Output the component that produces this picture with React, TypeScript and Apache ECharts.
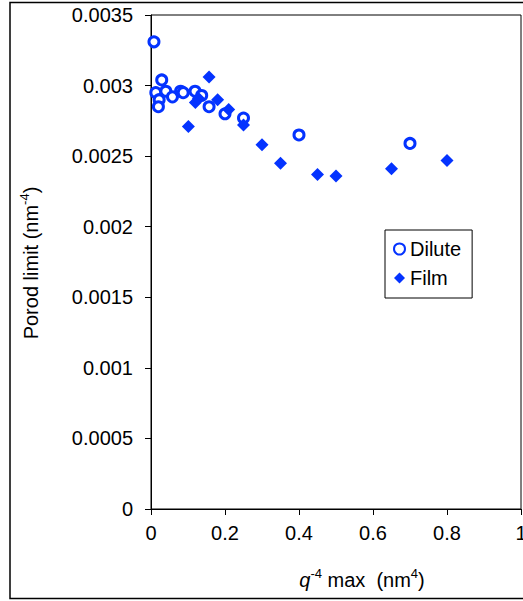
import React, { useEffect, useRef } from "react";
import * as echarts from "echarts";

const diluteX = [0.008, 0.029, 0.013, 0.022, 0.02, 0.04, 0.058, 0.08, 0.087, 0.119, 0.137, 0.157, 0.2, 0.25, 0.4, 0.7];
const diluteY = [0.00331, 0.00304, 0.00295, 0.0029, 0.00285, 0.00296, 0.00292, 0.00296, 0.00295, 0.00296, 0.00293, 0.00285, 0.0028, 0.00277, 0.00265, 0.00259];

const filmX = [0.101, 0.12, 0.128, 0.157, 0.18, 0.21, 0.25, 0.3, 0.35, 0.45, 0.5, 0.65, 0.8];
const filmY = [0.00271, 0.00288, 0.00291, 0.00306, 0.0029, 0.00283, 0.00272, 0.00258, 0.00245, 0.00237, 0.00236, 0.00241, 0.00247];

const seriesNames = ["Dilute", "Film"];
const BLUE = "#0433ff";
const FONT = "Liberation Sans, Arial, sans-serif";

export default function App() {
  const ref = useRef<HTMLDivElement>(null);
  useEffect(() => {
    if (!ref.current) return;
    const chart = echarts.init(ref.current, null, { renderer: "svg" });
    const dilute = diluteX.map((x, i) => [x, diluteY[i]]);
    const film = filmX.map((x, i) => [x, filmY[i]]);
    chart.setOption({
      animation: false,
      backgroundColor: "#fff",
      textStyle: { fontFamily: FONT },
      grid: {
        left: 151,
        top: 15,
        right: 2,
        bottom: 92,
        show: true,
        borderColor: "#000",
        borderWidth: 1,
        containLabel: false,
        outerBoundsMode: "none",
      },
      xAxis: {
        type: "value",
        min: 0,
        max: 1,
        interval: 0.2,
        axisLine: { show: true, onZero: false, lineStyle: { color: "#000", width: 1 } },
        axisTick: { show: true, inside: false, length: 6, lineStyle: { color: "#000" } },
        splitLine: { show: false },
        axisLabel: {
          color: "#000",
          fontSize: 20,
          fontFamily: FONT,
          margin: 14,
          formatter: (v: number) => String(+v.toFixed(1)),
        },
      },
      yAxis: {
        type: "value",
        min: 0,
        max: 0.0035,
        interval: 0.0005,
        axisLine: { show: true, onZero: false, lineStyle: { color: "#000", width: 1 } },
        axisTick: { show: true, inside: false, length: 6, lineStyle: { color: "#000" } },
        splitLine: { show: false },
        axisLabel: {
          color: "#000",
          fontSize: 20,
          fontFamily: FONT,
          margin: 18,
          formatter: (v: number) => String(+v.toFixed(4)),
        },
      },
      legend: {
        orient: "vertical",
        left: 385,
        top: 230,
        padding: [9, 11, 10, 8],
        itemGap: 9,
        itemWidth: 11,
        itemHeight: 11,
        borderColor: "#000",
        borderWidth: 1,
        backgroundColor: "#fff",
        textStyle: { color: "#000", fontSize: 20, fontFamily: FONT, lineHeight: 20 },
        data: seriesNames,
      },
      series: [
        {
          name: seriesNames[0],
          type: "scatter",
          symbol: "circle",
          symbolSize: 10,
          itemStyle: { color: "#fff", borderColor: BLUE, borderWidth: 3, opacity: 1 },
          data: dilute,
        },
        {
          name: seriesNames[1],
          type: "scatter",
          symbol: "diamond",
          symbolSize: 13,
          itemStyle: { color: BLUE, opacity: 1 },
          data: film,
        },
      ],
      graphic: [
        {
          type: "rect",
          shape: { x: 10, y: 2.5, width: 530, height: 596 },
          style: { fill: "none", stroke: "#000", lineWidth: 1.5 },
          silent: true,
          z: 100,
        },
        {
          type: "text",
          x: 362,
          y: 580,
          style: {
            text: "{i|q}{s|-4}{a| max  (nm}{s|4}{a|)}",
            align: "center",
            verticalAlign: "middle",
            rich: {
              a: { fontSize: 20, fontFamily: FONT, fill: "#000", lineHeight: 26 },
              i: { fontSize: 20, fontFamily: FONT, fontStyle: "italic", fill: "#000", lineHeight: 26 },
              s: { fontSize: 13, fontFamily: FONT, fill: "#000", verticalAlign: "top", lineHeight: 14 },
            },
          },
        },
        {
          type: "text",
          x: 31,
          y: 263,
          rotation: Math.PI / 2,
          style: {
            text: "{a|Porod limit (nm}{s|-4}{a|)}",
            align: "center",
            verticalAlign: "middle",
            rich: {
              a: { fontSize: 20, fontFamily: FONT, fill: "#000", lineHeight: 26 },
              s: { fontSize: 13, fontFamily: FONT, fill: "#000", verticalAlign: "top", lineHeight: 14 },
            },
          },
        },
      ],
    });
    return () => chart.dispose();
  }, []);
  return (
    <div
      ref={ref}
      style={{ position: "absolute", left: 0, top: 0, width: 523, height: 601 }}
    />
  );
}
